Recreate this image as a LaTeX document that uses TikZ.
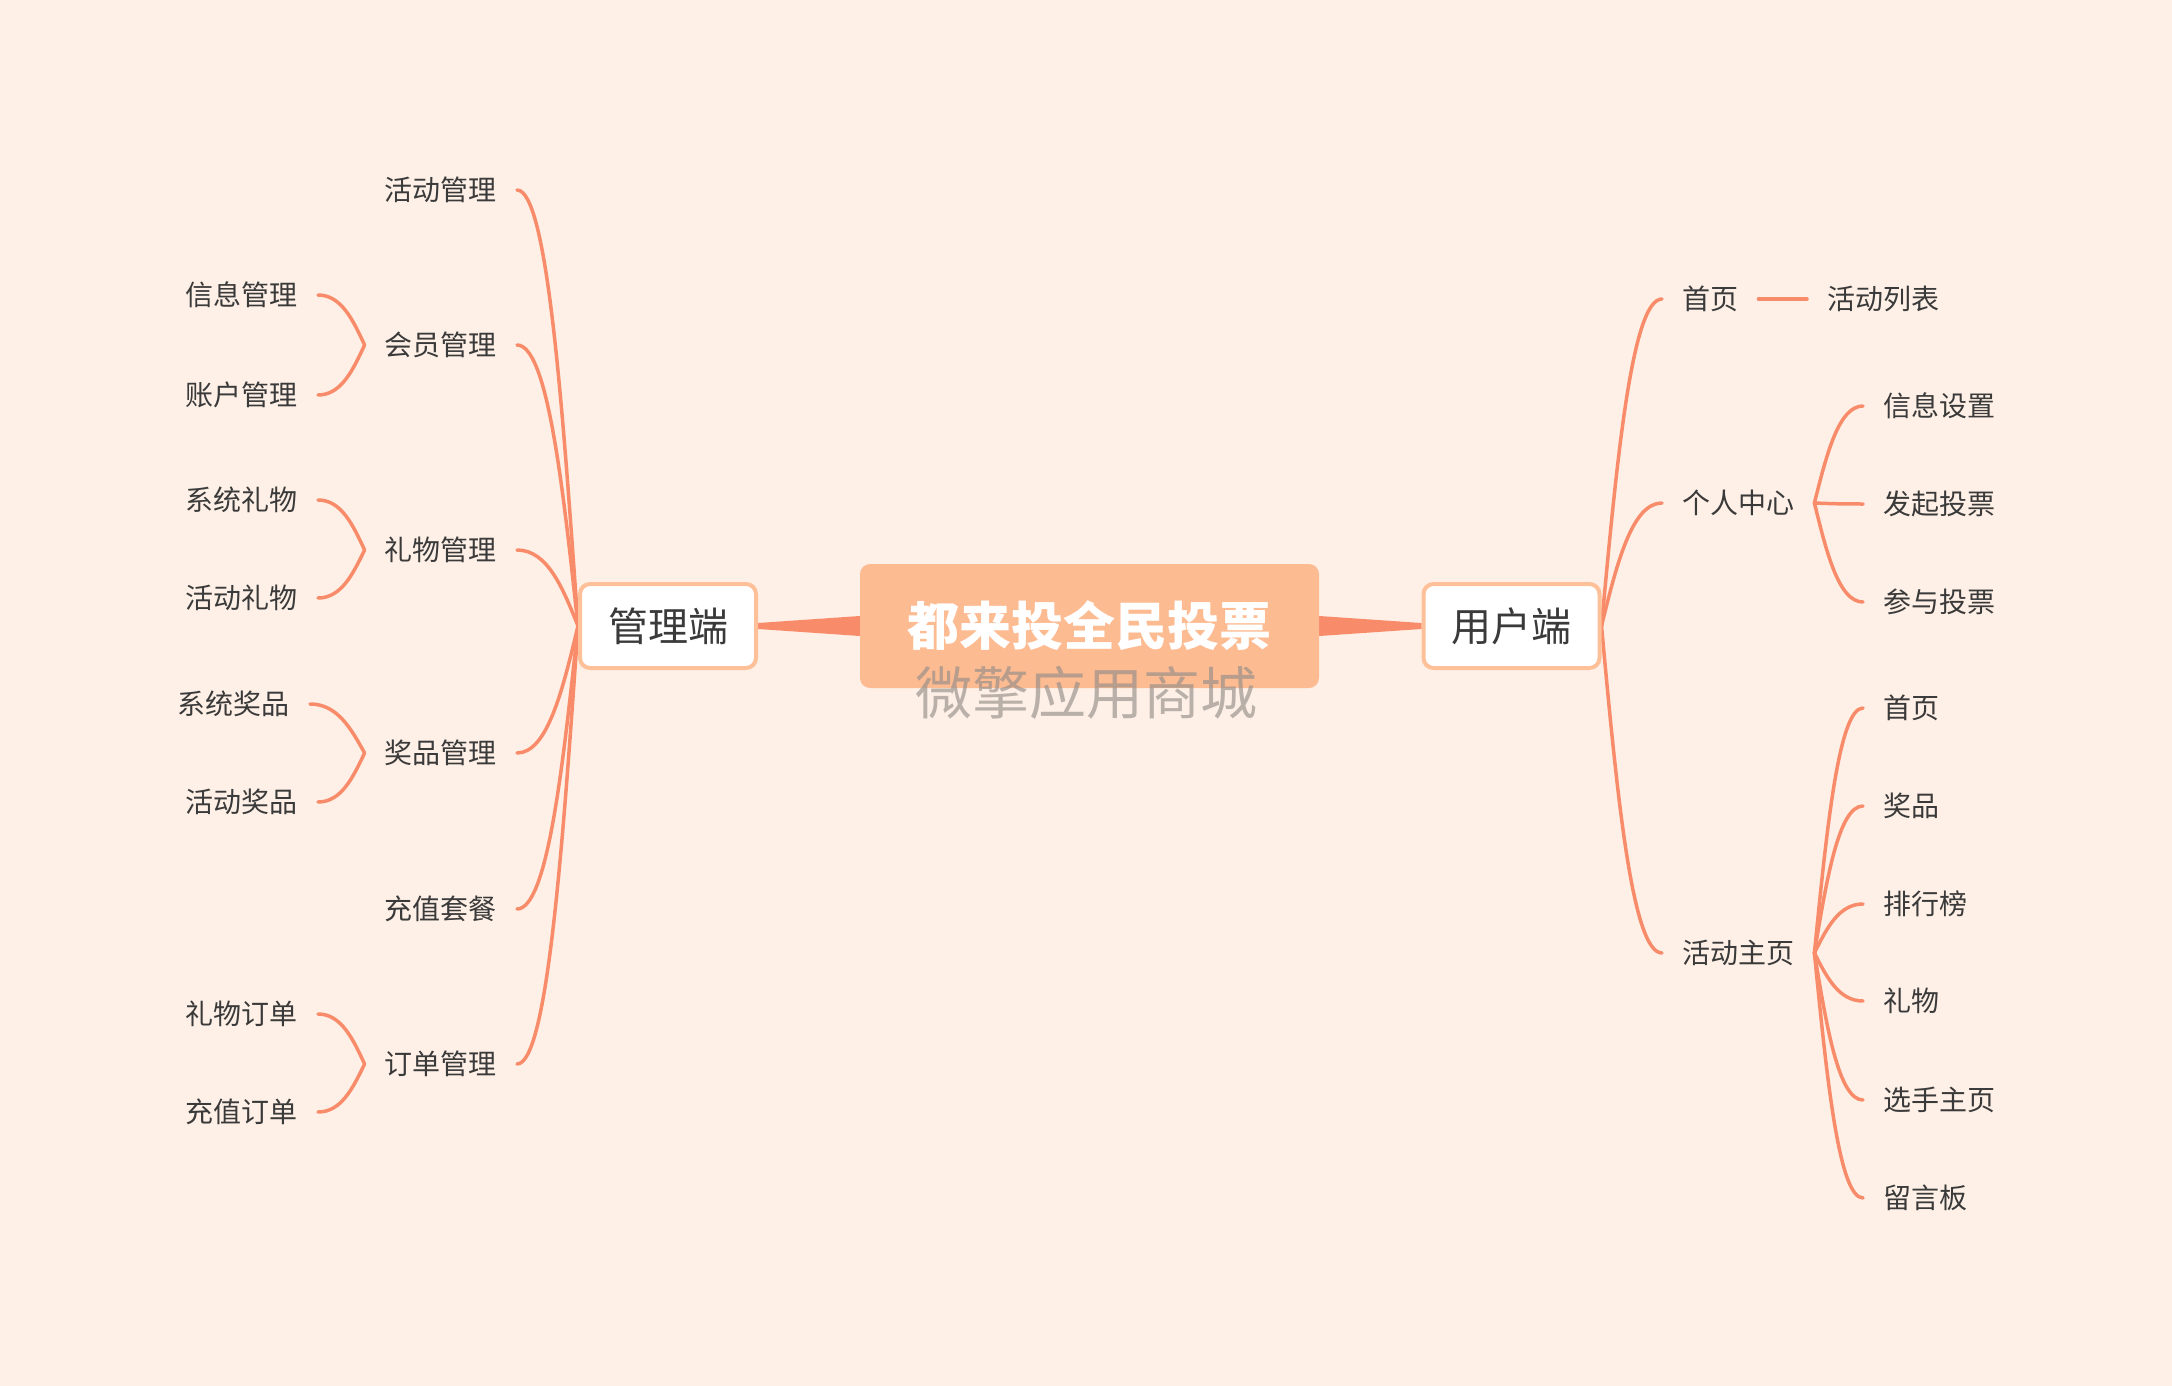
\documentclass[tikz,border=0pt]{standalone}
\usepackage{fontspec}
\setmainfont{Noto Sans CJK SC}
\usetikzlibrary{calc}
\usetikzlibrary{positioning}

\definecolor{bgc}{RGB}{254,240,230}
\definecolor{linkc}{RGB}{248,140,106}
\definecolor{boxc}{RGB}{253,187,146}
\definecolor{borderc}{RGB}{253,192,152}
\definecolor{textc}{RGB}{58,58,58}
\definecolor{wmc}{RGB}{150,142,138}

\pgfdeclarelayer{bg}
\pgfdeclarelayer{links}
\pgfsetlayers{bg,links,main}

\tikzset{
  lbl/.style={text=textc, font=\fontsize{28}{30}\selectfont, inner xsep=20pt, inner ysep=0pt},
  side/.style={draw=borderc, line width=4pt, fill=white, rounded corners=10pt,
    minimum width=176pt, minimum height=84pt, text=textc, font=\fontsize{40}{42}\selectfont},
  topic/.style={fill=boxc, rounded corners=10pt, minimum width=459pt, minimum height=124pt,
    text=white, font=\fontsize{52}{54}\selectfont\bfseries},
  link/.style={draw=linkc, line width=3.5pt, line cap=round},
  wedge/.style={fill=linkc},
}

\newcommand{\linkto}[2]{%
  \draw[link] let \p1=(#1), \p2=(#2) in
    (\p1) .. controls ({\x1+0.25*(\x2-\x1)}, {\y1+0.5*(\y2-\y1)}) and ({0.5*(\x1+\x2)}, \y2) .. (\p2);}

\begin{document}
\begin{tikzpicture}[x=1pt, y=-1pt]
    \useasboundingbox (0,0) rectangle (2172,1386);
    \begin{pgfonlayer}{bg}
      \fill[bgc] (0,0) rectangle (2172,1386);
    \end{pgfonlayer}

    \node[topic] (vote) at (1089.5,626) {都来投全民投票};
    \node[text=wmc, opacity=0.65, font=\fontsize{57}{58}\selectfont] (mark) at (1086,693) {微擎应用商城};
    \node[side] (admin) at (668,626) {管理端};
    \node[side] (user) at (1511.5,626) {用户端};

    % admin side
    \node[lbl, anchor=east] (hdgl) at (517,190) {活动管理};
    \node[lbl, anchor=east] (hygl) at (517,345) {会员管理};
    \node[lbl, anchor=east] (lwgl) at (517,550) {礼物管理};
    \node[lbl, anchor=east] (jpgl) at (517,753) {奖品管理};
    \node[lbl, anchor=east] (czcx) at (517,909) {充值套餐};
    \node[lbl, anchor=east] (ddgl) at (517,1064) {订单管理};

    \node[lbl, anchor=east] (xxgl) at (318,295) {信息管理};
    \node[lbl, anchor=east] (zhgl) at (318,395) {账户管理};
    \node[lbl, anchor=east] (xtlw) at (318,500) {系统礼物};
    \node[lbl, anchor=east] (hdlw) at (318,598) {活动礼物};
    \node[lbl, anchor=east] (xtjp) at (310,704) {系统奖品};
    \node[lbl, anchor=east] (hdjp) at (318,802) {活动奖品};
    \node[lbl, anchor=east] (lwdd) at (318,1014) {礼物订单};
    \node[lbl, anchor=east] (czdd) at (318,1112) {充值订单};

    % user side
    \node[lbl, anchor=west] (sy) at (1662,299) {首页};
    \node[lbl, anchor=west] (grzx) at (1662,503) {个人中心};
    \node[lbl, anchor=west] (hdzy) at (1662,953) {活动主页};

    \node[lbl, anchor=west] (hdlb) at (1807,299) {活动列表};
    \node[lbl, anchor=west] (xxsz) at (1863,406) {信息设置};
    \node[lbl, anchor=west] (fqtp) at (1863,504) {发起投票};
    \node[lbl, anchor=west] (cytp) at (1863,602) {参与投票};

    \node[lbl, anchor=west] (zy) at (1863,708) {首页};
    \node[lbl, anchor=west] (jp) at (1863,806) {奖品};
    \node[lbl, anchor=west] (phb) at (1863,904) {排行榜};
    \node[lbl, anchor=west] (lw) at (1863,1001) {礼物};
    \node[lbl, anchor=west] (xszy) at (1863,1100) {选手主页};
    \node[lbl, anchor=west] (lyb) at (1863,1198) {留言板};

    \begin{pgfonlayer}{links}
      \fill[wedge] ($(admin.east)+(0,-3)$) -- ($(vote.west)+(0,-10)$) -- ($(vote.west)+(0,10)$) -- ($(admin.east)+(0,3)$) -- cycle;
      \fill[wedge] ($(user.west)+(0,-3)$) -- ($(vote.east)+(0,-10)$) -- ($(vote.east)+(0,10)$) -- ($(user.west)+(0,3)$) -- cycle;

      \foreach \c in {hdgl,hygl,lwgl,jpgl,czcx,ddgl}
        \linkto{admin.west}{\c.east};
      \linkto{hygl.west}{xxgl.east}
      \linkto{hygl.west}{zhgl.east}
      \linkto{lwgl.west}{xtlw.east}
      \linkto{lwgl.west}{hdlw.east}
      \linkto{jpgl.west}{xtjp.east}
      \linkto{jpgl.west}{hdjp.east}
      \linkto{ddgl.west}{lwdd.east}
      \linkto{ddgl.west}{czdd.east}

      \foreach \c in {sy,grzx,hdzy}
        \linkto{user.east}{\c.west};
      \draw[link] (sy.east) -- (hdlb.west);
      \foreach \c in {xxsz,fqtp,cytp}
        \linkto{grzx.east}{\c.west};
      \foreach \c in {zy,jp,phb,lw,xszy,lyb}
        \linkto{hdzy.east}{\c.west};
    \end{pgfonlayer}
\end{tikzpicture}
\end{document}
